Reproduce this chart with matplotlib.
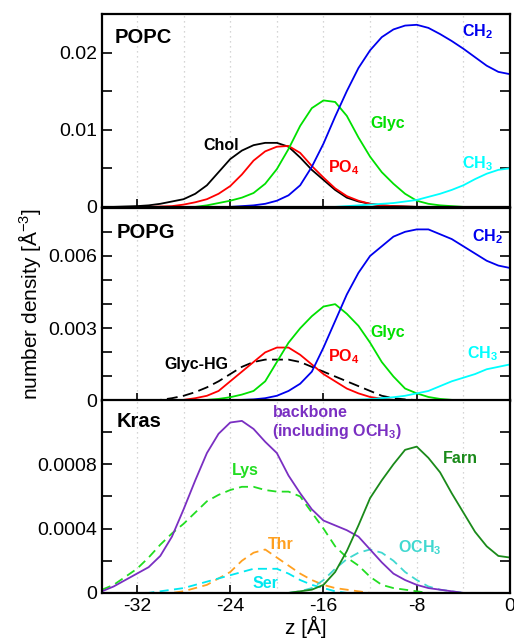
import numpy as np
import matplotlib
matplotlib.use("Agg")
import matplotlib.pyplot as plt
from matplotlib.ticker import MultipleLocator

plt.rcParams['font.family'] = ['Liberation Sans', 'DejaVu Sans']
plt.rcParams['mathtext.fontset'] = 'custom'
plt.rcParams['mathtext.rm'] = 'Liberation Sans'
plt.rcParams['mathtext.bf'] = 'Liberation Sans:bold'
plt.rcParams['mathtext.it'] = 'Liberation Sans:italic'

# ---------------- data ----------------
z = list(range(-35, 1))

# POPC
popc_chol = [0, 0, 0.00005, 0.0001, 0.0002, 0.0004, 0.0007, 0.001, 0.0017, 0.0028, 0.0045,
             0.0062, 0.0073, 0.0080, 0.0083, 0.0083, 0.0078, 0.0064, 0.0048, 0.0035, 0.0022,
             0.0012, 0.0007, 0.0004, 0.0002, 0.0001, 0.00005, 0, 0, 0, 0, 0, 0, 0, 0, 0]
popc_po4 = [0, 0, 0, 0, 0, 0.00005, 0.0001, 0.0003, 0.0006, 0.001, 0.0017, 0.0027, 0.0042,
            0.006, 0.0072, 0.0078, 0.0079, 0.0070, 0.0053, 0.0038, 0.0024, 0.0014, 0.0008,
            0.0004, 0.0002, 0.0001, 0.00005, 0, 0, 0, 0, 0, 0, 0, 0, 0]
popc_glyc = [0, 0, 0, 0, 0, 0, 0, 0, 0, 0.0002, 0.0005, 0.0008, 0.0012, 0.0018, 0.003, 0.0049,
             0.0075, 0.0105, 0.0128, 0.0138, 0.0136, 0.0118, 0.0090, 0.0065, 0.0045, 0.0030,
             0.0017, 0.0008, 0.0004, 0.0002, 0.0001, 0, 0, 0, 0, 0]
popc_ch2 = [0, 0, 0, 0, 0, 0, 0, 0, 0, 0, 0, 0, 0.0001, 0.0002, 0.0004, 0.0008, 0.0015, 0.0028,
            0.0052, 0.0082, 0.0117, 0.0150, 0.0180, 0.0203, 0.0220, 0.0230, 0.0235, 0.0236,
            0.0232, 0.0224, 0.0215, 0.0205, 0.0194, 0.0183, 0.0175, 0.0172]
popc_ch3 = [0] * 21 + [0.0001, 0.0002, 0.0003, 0.0004, 0.0005, 0.0007, 0.0009, 0.0013, 0.0017,
                       0.0022, 0.0028, 0.0036, 0.0043, 0.0048, 0.0050]

# POPG
popg_ch2 = [0] * 12 + [0.00003, 0.00005, 0.0001, 0.0002, 0.0004, 0.0007, 0.0012, 0.0022, 0.0033,
                       0.0044, 0.0053, 0.006, 0.0064, 0.0068, 0.0070, 0.0071, 0.0071, 0.0069,
                       0.0067, 0.0064, 0.0061, 0.0058, 0.0056, 0.0055]
popg_glyc = [0] * 9 + [0.00003, 0.00007, 0.00014, 0.00025, 0.0004, 0.0008, 0.0016, 0.0024, 0.003,
                       0.0035, 0.0039, 0.0040, 0.0036, 0.0031, 0.0024, 0.0016, 0.001, 0.0005,
                       0.0003, 0.00015, 0.00007, 0.00003, 0, 0, 0, 0, 0]
popg_po4 = [0] * 7 + [0.00003, 0.0001, 0.0002, 0.0004, 0.0008, 0.0012, 0.0016, 0.002, 0.0022,
                      0.0022, 0.0019, 0.0015, 0.0011, 0.0008, 0.0005, 0.0003, 0.00015, 0.00008,
                      0.00003, 0, 0, 0, 0, 0, 0, 0, 0, 0, 0]
popg_glychg = [0] * 5 + [0.00003, 0.0001, 0.0002, 0.00035, 0.00055, 0.0008, 0.0011, 0.0014,
                         0.0016, 0.0017, 0.0017, 0.0017, 0.0016, 0.0014, 0.0012, 0.001, 0.0008,
                         0.0006, 0.0004, 0.0002, 0.0001, 0.00005, 0.00002, 0, 0, 0, 0, 0, 0, 0, 0]
popg_ch3 = [0] * 21 + [0.00002, 0.00004, 0.00006, 0.0001, 0.00014, 0.0002, 0.0003, 0.0004,
                       0.0006, 0.0008, 0.00095, 0.0011, 0.0013, 0.0014, 0.0015]

# Kras
kras_backbone = [0.00001, 0.00004, 0.00008, 0.00012, 0.00016, 0.00023, 0.00035, 0.00052, 0.0007,
                 0.00087, 0.00099, 0.00106, 0.00107, 0.00102, 0.00094, 0.00087, 0.00073, 0.00062,
                 0.00052, 0.00045, 0.00042, 0.00039, 0.00035, 0.00027, 0.00019, 0.00012, 0.00008,
                 0.00005, 0.00003, 0.00002, 0.00001, 0, 0, 0, 0, 0]
kras_lys = [0.00002, 0.00005, 0.0001, 0.00015, 0.00022, 0.0003, 0.00037, 0.00043, 0.0005, 0.00057,
            0.00061, 0.00064, 0.00066, 0.00066, 0.00064, 0.00063, 0.00063, 0.0006, 0.0005, 0.0004,
            0.00029, 0.00022, 0.00017, 0.0001, 0.00005, 0.00003, 0.00002, 0.00001, 0, 0, 0, 0,
            0, 0, 0, 0]
kras_thr = [0] * 7 + [0.00001, 0.00003, 0.00005, 0.00009, 0.00013, 0.0002, 0.00025, 0.00027,
                      0.00022, 0.00017, 0.00012, 0.00008, 0.00005, 0.00003, 0.00002, 0.00001,
                      0, 0, 0, 0, 0, 0, 0, 0, 0, 0, 0, 0, 0]
kras_ser = [0] * 5 + [0.00001, 0.00002, 0.00003, 0.00005, 0.00007, 0.00009, 0.00011, 0.00013,
                      0.00015, 0.00015, 0.00015, 0.00012, 0.00008, 0.00005, 0.00003, 0.00001,
                      0, 0, 0, 0, 0, 0, 0, 0, 0, 0, 0, 0, 0, 0, 0]
kras_och3 = [0] * 17 + [0.00001, 0.00003, 0.00008, 0.00015, 0.00021, 0.00025, 0.00027, 0.00025,
                        0.0002, 0.00013, 0.00008, 0.00004, 0.00002, 0.00001, 0, 0, 0, 0, 0]
kras_farn = [0] * 17 + [0.00001, 0.00002, 0.00005, 0.00013, 0.00026, 0.00042, 0.00059, 0.0007,
                        0.0008, 0.00089, 0.00091, 0.00084, 0.00075, 0.00062, 0.0005, 0.00038,
                        0.00029, 0.00023, 0.00022]

x_ticks = [-32, -24, -16, -8, 0]
x_tick_labels = ['-32', '-24', '-16', '-8', '0']

# ---------------- figure ----------------
W, H = 514, 642
fig = plt.figure(figsize=(W / 100, H / 100), dpi=100)

left = 102 / W
width = 408 / W
tops = [14, 207.7, 400]
ph = 192.9
axes = []
for t in tops:
    ax = fig.add_axes([left, 1 - (t + ph) / H, width, ph / H])
    axes.append(ax)

BLUE = '#0000ee'
GREEN = '#00e000'
RED = '#ff0000'
CYAN = '#00ffff'
PURPLE = '#7a2fc2'
DGREEN = '#1a8a1a'
ORANGE = '#ffa020'
TURQ = '#40d8d0'
SERC = '#00e8f0'
lw = 1.3

ylims = [0.025, 0.008, 0.0012]
ymaj = [0.01, 0.003, 0.0004]
ymin = [0.005, 0.001, 0.0002]
ylabfmt = [['0', '0.01', '0.02'], ['0', '0.003', '0.006'], ['0', '0.0004', '0.0008']]

for i, ax in enumerate(axes):
    ax.set_xlim(-35, 0)
    ax.set_ylim(0, ylims[i])
    ax.xaxis.set_major_locator(MultipleLocator(8))
    ax.xaxis.set_minor_locator(MultipleLocator(4))
    ax.yaxis.set_major_locator(MultipleLocator(ymaj[i]))
    ax.yaxis.set_minor_locator(MultipleLocator(ymin[i]))
    ticks = [k * ymaj[i] for k in range(len(ylabfmt[i]))]
    ax.set_yticks(ticks)
    ax.set_yticklabels(ylabfmt[i])
    ax.grid(True, axis='x', which='both', linestyle=(0, (1, 3)), color='#c8c8c8', linewidth=0.9)
    ax.tick_params(axis='y', which='both', direction='in', left=True, right=True, labelsize=14,
                   width=1.2)
    ax.tick_params(axis='y', which='major', length=7)
    ax.tick_params(axis='y', which='minor', length=7)
    ax.tick_params(axis='x', which='both', direction='in', bottom=True, top=False, labelsize=14,
                   width=1.2)
    ax.tick_params(axis='x', which='major', length=6)
    ax.tick_params(axis='x', which='minor', length=0)
    for sp in ax.spines.values():
        sp.set_linewidth(1.6)
    if i < 2:
        ax.tick_params(axis='x', labelbottom=False)
    ax.set_axisbelow(True)

axes[2].set_xticks(x_ticks)
axes[2].set_xticklabels(x_tick_labels)
axes[2].set_xlabel('z [Å]', fontsize=15, labelpad=1)

# panel 1
a = axes[0]
a.plot(z, popc_chol, color='black', lw=lw)
a.plot(z, popc_po4, color=RED, lw=lw)
a.plot(z, popc_glyc, color=GREEN, lw=lw)
a.plot(z, popc_ch2, color=BLUE, lw=lw)
a.plot(z, popc_ch3, color=CYAN, lw=lw)
fs = 11.5
T = a.transAxes
a.text(0.032, 0.876, 'POPC', transform=T, fontsize=14.5, fontweight='bold', va='center')
a.text(0.293, 0.319, 'Chol', transform=T, fontsize=fs, fontweight='bold', va='center', ha='center')
a.text(0.657, 0.432, 'Glyc', transform=T, fontsize=fs, fontweight='bold', va='center', color=GREEN)
a.text(0.554, 0.205, r'PO$_\mathbf{4}$', transform=T, fontsize=fs, fontweight='bold', va='center', color=RED)
a.text(0.882, 0.907, r'CH$_\mathbf{2}$', transform=T, fontsize=fs, fontweight='bold', va='center', color=BLUE)
a.text(0.882, 0.226, r'CH$_\mathbf{3}$', transform=T, fontsize=fs, fontweight='bold', va='center', color=CYAN)

# panel 2
a = axes[1]
a.plot(z, popg_glychg, color='black', lw=lw, dashes=(6, 3))
a.plot(z, popg_po4, color=RED, lw=lw)
a.plot(z, popg_glyc, color=GREEN, lw=lw)
a.plot(z, popg_ch2, color=BLUE, lw=lw)
a.plot(z, popg_ch3, color=CYAN, lw=lw)
T = a.transAxes
a.text(0.037, 0.874, 'POPG', transform=T, fontsize=14.5, fontweight='bold', va='center')
a.text(0.232, 0.187, 'Glyc-HG', transform=T, fontsize=fs, fontweight='bold', va='center', ha='center')
a.text(0.657, 0.354, 'Glyc', transform=T, fontsize=fs, fontweight='bold', va='center', color=GREEN)
a.text(0.554, 0.229, r'PO$_\mathbf{4}$', transform=T, fontsize=fs, fontweight='bold', va='center', color=RED)
a.text(0.907, 0.848, r'CH$_\mathbf{2}$', transform=T, fontsize=fs, fontweight='bold', va='center', color=BLUE)
a.text(0.895, 0.244, r'CH$_\mathbf{3}$', transform=T, fontsize=fs, fontweight='bold', va='center', color=CYAN)

# panel 3
a = axes[2]
a.plot(z, kras_lys, color='#22dd22', lw=lw, dashes=(5, 3))
a.plot(z, kras_thr, color=ORANGE, lw=lw, dashes=(5, 3))
a.plot(z, kras_ser, color=SERC, lw=lw, dashes=(5, 3))
a.plot(z, kras_och3, color=TURQ, lw=lw, dashes=(5, 3))
a.plot(z, kras_backbone, color=PURPLE, lw=lw)
a.plot(z, kras_farn, color=DGREEN, lw=lw)
T = a.transAxes
a.text(0.037, 0.891, 'Kras', transform=T, fontsize=14.5, fontweight='bold', va='center')
a.text(0.419, 0.933, 'backbone', transform=T, fontsize=fs, fontweight='bold', va='center', color=PURPLE)
a.text(0.417, 0.838, r'(including OCH$_\mathbf{3}$)', transform=T, fontsize=fs, fontweight='bold', va='center', color=PURPLE)
a.text(0.319, 0.637, 'Lys', transform=T, fontsize=fs, fontweight='bold', va='center', color='#22dd22')
a.text(0.836, 0.699, 'Farn', transform=T, fontsize=fs, fontweight='bold', va='center', color=DGREEN)
a.text(0.407, 0.253, 'Thr', transform=T, fontsize=fs, fontweight='bold', va='center', color=ORANGE)
a.text(0.370, 0.050, 'Ser', transform=T, fontsize=fs, fontweight='bold', va='center', color=SERC)
a.text(0.725, 0.232, r'OCH$_\mathbf{3}$', transform=T, fontsize=fs, fontweight='bold', va='center', color=TURQ)

fig.text(30 / W, 1 - 304 / H, 'number density [Å$^{-3}$]', rotation=90, fontsize=15,
         va='center', ha='center')

fig.savefig('out.png', dpi=100)
